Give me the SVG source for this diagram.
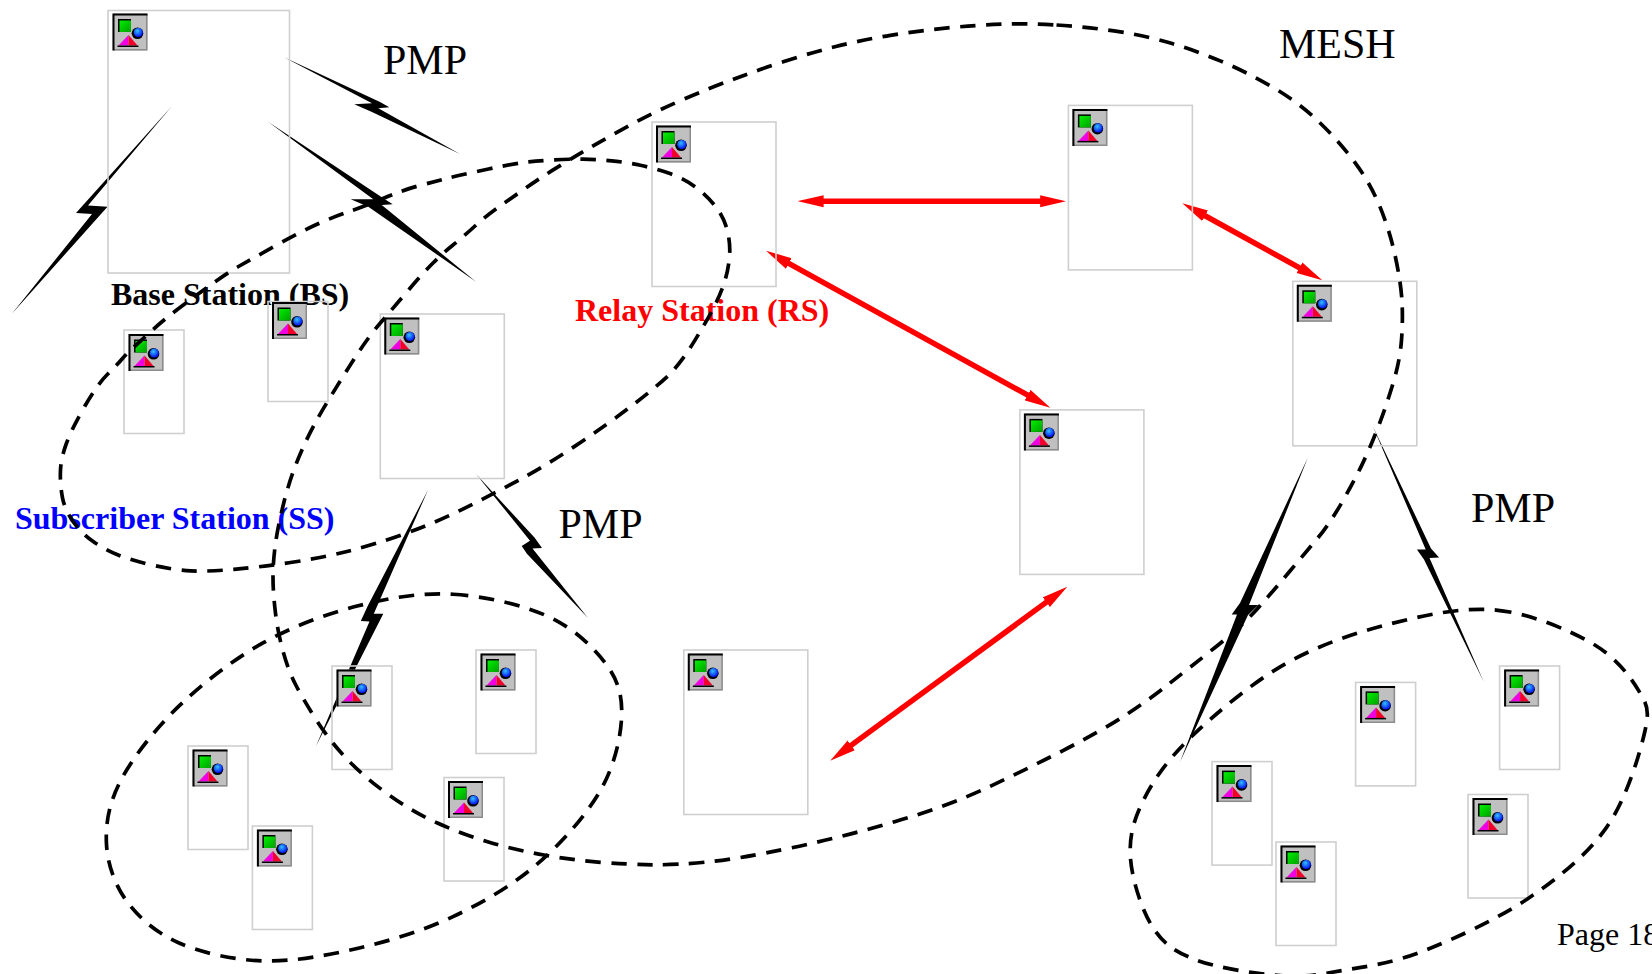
<svg xmlns="http://www.w3.org/2000/svg" xmlns:xlink="http://www.w3.org/1999/xlink" width="1652" height="974" viewBox="0 0 1652 974">
<style>
text{font-family:"Liberation Serif","Times New Roman",serif}
.big{font-size:42px;fill:#000}
.lbl{font-size:32px;font-weight:bold}
.box{fill:none;stroke:#cfcfcf;stroke-width:1.6}
.range{fill:none;stroke:#000;stroke-width:3.7;stroke-dasharray:15.5 10.5;vector-effect:non-scaling-stroke}
.bolt{fill:#000;stroke:none}
.arrow{stroke:#f00;stroke-width:5.5;fill:none;marker-start:url(#ah);marker-end:url(#ah)}
</style>
<defs>
<marker id="ah" markerUnits="userSpaceOnUse" markerWidth="26" markerHeight="13" refX="12" refY="6.5" orient="auto-start-reverse"><path d="M0 .5 L26 6.5 L0 12.5 Z" fill="#f00"/></marker>
<linearGradient id="gr" x1="0" y1="0" x2="1" y2="1"><stop offset="0" stop-color="#00f000"/><stop offset="1" stop-color="#00a000"/></linearGradient>
<radialGradient id="bl" cx=".4" cy=".35" r=".7"><stop offset="0" stop-color="#30c0ff"/><stop offset="1" stop-color="#0000f0"/></radialGradient>
<g id="icon">
<rect width="35" height="37" fill="#c0c0c0"/>
<path d="M33.5 1.5H35V37H1.5V35.5H33.5Z" fill="#8c8c8c"/>
<path d="M0 37V0H35V2H2V37Z" fill="#000"/>
<rect x="5.5" y="5.5" width="13" height="13" fill="#000"/>
<rect x="7" y="7" width="11.5" height="11.5" fill="url(#gr)"/>
<circle cx="25" cy="19.8" r="5.8" fill="#000"/>
<circle cx="25.8" cy="19" r="4.6" fill="url(#bl)"/>
<path d="M6 32 L16 21.5 L16 32Z" fill="#f000e0"/>
<path d="M16 21.5 L25 32 L16 32Z" fill="#f0002a"/>
<rect x="5" y="32" width="21" height="1.5" fill="#000"/>
</g>
</defs>
<rect width="1652" height="974" fill="#fff"/>
<g id="labels">
<text class="big" x="383" y="74">PMP</text>
<text class="big" x="1279" y="58">MESH</text>
<text class="big" x="558.5" y="538">PMP</text>
<text class="big" x="1471" y="522">PMP</text>
<text class="lbl" x="111" y="305" fill="#000">Base Station (BS)</text>
<text class="lbl" x="575" y="321" fill="#f00">Relay Station (RS)</text>
<text class="lbl" x="15" y="529" fill="#00f">Subscriber Station (SS)</text>
<text x="1557" y="945" font-size="32" fill="#000">Page 18</text>
</g>
<g id="connectors">
<polygon class="bolt" points="172,106 76,213 92,214 11.7,314 107.5,206.7 88,205.5"/>
<polygon class="bolt" points="284,57.3 380,102 389.3,107.3 378.3,108.3 460,154 372,112 354.3,104.3 372,103.3"/>
<polygon class="bolt" points="268,121.7 383.3,198.3 392.7,204.3 381.7,205 476,281.7 368.3,206.7 350.7,199.3 373.3,199.3"/>
<polygon class="bolt" points="428,490 367.7,606 360.8,621 369.5,621.6 316,746 383.3,613.8 373.8,613.8"/>
<polygon class="bolt" points="476,474 534.7,537.8 542,548 532.5,548.5 588,618 526.9,553.7 521.7,546 530,540.8"/>
<polygon class="bolt" points="1307.7,457.9 1249,605 1258.3,605 1248,615 1180,761.9 1237,614.5 1231.7,614.5 1240,603"/>
<polygon class="bolt" points="1372.9,426.4 1431,548.4 1439.1,557.5 1429.5,558 1483.8,682 1424,559.5 1416.9,549.5 1425.7,549.5"/>
<line class="arrow" x1="811.6" y1="201.2" x2="1052.2" y2="201.2"/>
<line class="arrow" x1="1194.6" y1="210" x2="1310" y2="273.6"/>
<line class="arrow" x1="778.3" y1="257.6" x2="1038.1" y2="400.9"/>
<line class="arrow" x1="1056" y1="595.1" x2="841.5" y2="752.4"/>
</g>
<g id="bs" transform="translate(108,10.5)"><rect class="box" width="181.5" height="262.5"/><use xlink:href="#icon" x="4.5" y="3"/></g>
<g id="mesh1" transform="translate(652,122)"><rect class="box" width="124" height="164.5"/><use xlink:href="#icon" x="4" y="3.5"/></g>
<g id="mesh2" transform="translate(1068.4,105.4)"><rect class="box" width="124" height="164.5"/><use xlink:href="#icon" x="4" y="3.5"/></g>
<g id="mesh3" transform="translate(1292.8,281.3)"><rect class="box" width="124" height="164.5"/><use xlink:href="#icon" x="4" y="3.5"/></g>
<g id="mesh4" transform="translate(1019.9,409.9)"><rect class="box" width="124" height="164.5"/><use xlink:href="#icon" x="4" y="3.5"/></g>
<g id="mesh5" transform="translate(683.8,650)"><rect class="box" width="124" height="164.5"/><use xlink:href="#icon" x="4" y="3.5"/></g>
<g id="rs" transform="translate(380.3,314)"><rect class="box" width="124" height="164.5"/><use xlink:href="#icon" x="4" y="3.5"/></g>
<g id="ss1" transform="translate(124,330)"><rect class="box" width="60" height="103.5"/><use xlink:href="#icon" x="4.5" y="4"/></g>
<g id="ss2" transform="translate(268,301.5)"><rect class="box" width="60" height="100"/><use xlink:href="#icon" x="4" y="0.5"/></g>
<g id="ss3" transform="translate(332,666)"><rect class="box" width="60" height="103.5"/><use xlink:href="#icon" x="4.5" y="3.5"/></g>
<g id="ss4" transform="translate(476,650)"><rect class="box" width="60" height="103.5"/><use xlink:href="#icon" x="4.5" y="3.5"/></g>
<g id="ss5" transform="translate(188,746)"><rect class="box" width="60" height="103.5"/><use xlink:href="#icon" x="4.5" y="3.5"/></g>
<g id="ss6" transform="translate(252.4,826)"><rect class="box" width="60" height="103.5"/><use xlink:href="#icon" x="4.5" y="3.5"/></g>
<g id="ss7" transform="translate(444,777.5)"><rect class="box" width="60" height="103.5"/><use xlink:href="#icon" x="4" y="3.5"/></g>
<g id="ss8" transform="translate(1212,761.6)"><rect class="box" width="60" height="103.5"/><use xlink:href="#icon" x="4.5" y="3.5"/></g>
<g id="ss9" transform="translate(1355.6,682.4)"><rect class="box" width="60" height="103.5"/><use xlink:href="#icon" x="4.5" y="3.5"/></g>
<g id="ss10" transform="translate(1499.6,666)"><rect class="box" width="60" height="103.5"/><use xlink:href="#icon" x="4.5" y="3.5"/></g>
<g id="ss11" transform="translate(1468,794.5)"><rect class="box" width="60" height="103.5"/><use xlink:href="#icon" x="4.5" y="3.5"/></g>
<g id="ss12" transform="translate(1276,842)"><rect class="box" width="60" height="103.5"/><use xlink:href="#icon" x="4.5" y="3.5"/></g>
<g id="ranges">
<path class="range" d="M1056.5 25Q1085 26.7 1113.9 30.9Q1142.8 35 1168.6 42.5Q1194.4 50 1220.2 60.9Q1246 71.7 1271.9 86.7Q1297.8 101.7 1317.9 120.9Q1338 140 1353.8 160.9Q1369.5 181.7 1379.6 205.9Q1389.6 230 1395.3 256.5Q1401 283 1402 301.5Q1403 320 1401.5 340Q1400 360 1393.5 381.9Q1387 403.7 1379 424.8Q1371 445.8 1362.3 464.1Q1353.5 482.4 1341.3 503.5Q1329 524.5 1318.4 537.3Q1307.7 550 1290 571Q1272.5 592 1256.7 609.5Q1240.8 627 1214.4 648Q1188 669 1166.9 685.5Q1145.8 702 1122.9 716.8Q1100 731.5 1062.5 750.8Q1025 770 986.5 788Q948 806 895.5 821.5Q843 837 790.5 848Q738 859 707.3 862Q676.5 865 652.8 864.8Q629 864.5 600.5 862.3Q572 860 544 855Q516 850 490 842.5Q464 835 438 823.3Q412 811.6 388 794.3Q364 777 346.8 758.9Q329.6 740.7 316.6 720.4Q303.5 700 295.8 685Q288 670 282.8 650.5Q277.5 631 275.3 611.5Q273 592 273 577Q273 562 275.3 545Q277.5 528 284 502Q290.5 476 301.3 451.5Q312 427 327.3 402Q342.6 377 355.6 356.8Q368.6 336.5 381.6 321.5Q394.6 306.4 408.8 289.7Q423 273 433 263Q443 253 453 245Q463 237 475 226Q487 215 500 206Q513 197 526.5 187.5Q540 178 557.2 167.4Q574.4 156.7 591.7 146.7Q609 136.7 631.9 124.2Q654.8 111.7 681.9 100Q709 88.3 733.5 79.2Q758 70 784 61.5Q810 53 835.8 46.5Q861.5 40 890.3 35.4Q919 30.7 947.7 27.9Q976.3 25 1002.2 24.2Q1028 23.3 1056.5 25Z"/>
<path class="range" d="M554.4 159.9Q568.7 159 583 159.2Q597.4 159.3 611.7 160.8Q626 162.3 640.4 165.3Q654.8 168.3 669.2 173.3Q683.5 178.3 695 186.7Q706.5 195 715.1 205.9Q723.7 216.7 727.2 230Q730.6 243.3 729.5 256.7Q728.3 270 724.6 281.7Q720.8 293.3 715 305Q709.3 316.7 694.7 340.6Q680 364.5 667.5 376.3Q655 388 631 406.4Q607 424.7 576.5 445.1Q546 465.5 518 480.6Q490 495.6 461.8 509.6Q433.6 523.6 403.3 534.3Q373 545 347 551.5Q321 558 290.5 562.5Q260 567 234 569.4Q208 571.7 190.8 570.9Q173.5 570 151.8 565Q130 560 117 554.5Q104 549 93.2 541.5Q82.4 534 73.7 522.3Q65 510.6 62.5 497.8Q60 485 60.4 472Q60.7 459 66.2 444Q71.6 429 84.6 406.5Q97.6 384 107.3 374.5Q117 365 122.5 358.5Q128 352 135.5 345.5Q143 339 151.5 331Q160 323 171.5 314Q183 305 205 289Q227 273 238.5 266.5Q250 260 275 246Q300 232 316.5 224.5Q333 217 348 212Q363 207 383 198.5Q403 190 418 186Q433 182 446.5 178.5Q460 175 488.5 169Q517 163 528.5 161.9Q540 160.7 554.4 159.9Z"/>
<path class="range" transform="scale(1.0536)" d="M430 564C460 565.8 495.8 574 520 585S563.3 614.2 575 630S590.8 660 590 680S583.3 726.7 570 750S533.3 800 510 820S458.3 856.7 430 870S370 893 340 900S278.3 912.8 250 912S191.7 904.5 170 895S131.5 870.8 120 855S101.8 819.2 101 800S103.5 761.7 115 740S147.5 691.7 170 670S221.7 625.8 250 610S310 582.7 340 575S400 562.2 430 564Z"/>
<path class="range" transform="scale(1.0536)" d="M1420 579C1451.7 582 1487.5 597.3 1510 610S1546.5 640.8 1555 655S1566 673.3 1561 695S1543.5 758.7 1525 785S1479.2 833.3 1450 853S1379.2 891.7 1350 903S1297.5 917.2 1275 921S1238.3 927.7 1215 926S1155.2 918.7 1135 911S1104.3 896 1094 880S1074.5 835 1073 815S1075.5 779.2 1085 760S1107.5 721.7 1130 700S1188.3 648 1220 630S1286.7 600.5 1320 592S1388.3 576 1420 579Z"/>
</g>
</svg>
